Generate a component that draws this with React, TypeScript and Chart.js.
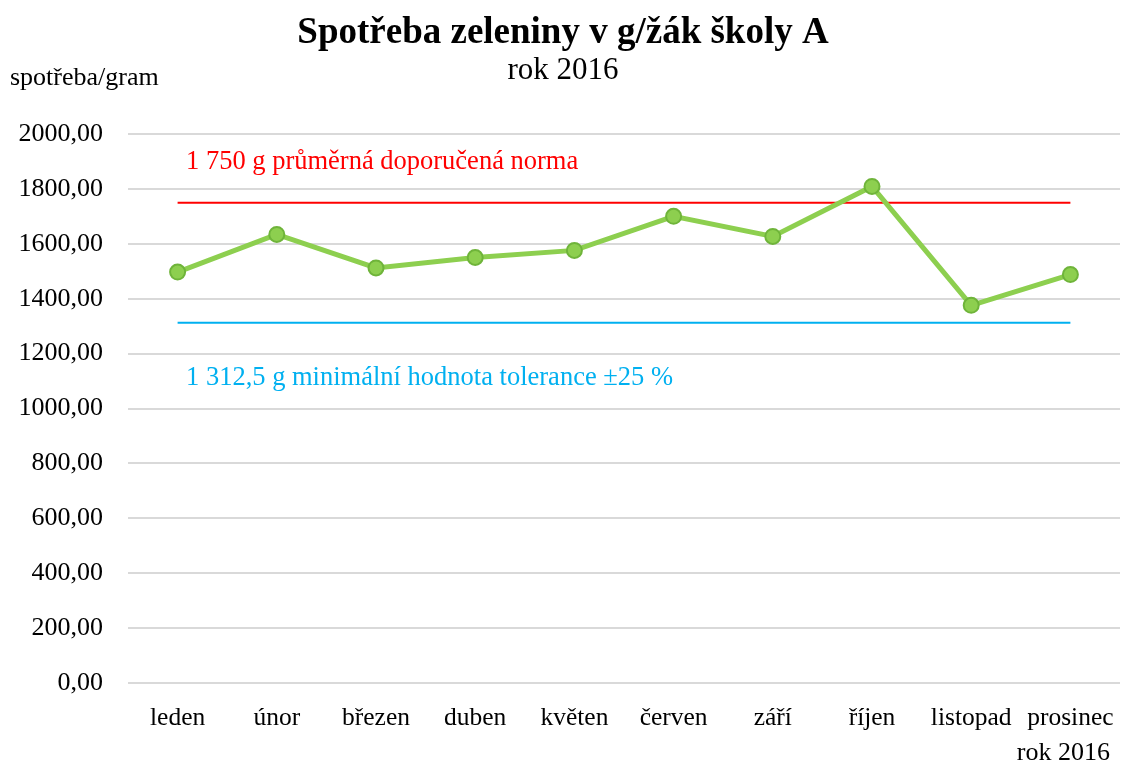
import React, { useEffect, useRef } from "react";
import { Chart, registerables } from "chart.js";

Chart.register(...registerables);

const months = ["leden", "únor", "březen", "duben", "květen", "červen", "září", "říjen", "listopad", "prosinec"];
const consumption = [1497, 1634, 1512, 1550, 1576, 1700, 1627, 1809, 1376, 1488];
const normValue = 1750;
const minTolerance = 1312.5;
const normSeries = months.map(() => normValue);
const toleranceSeries = months.map(() => minTolerance);

const titleText = "Spotřeba zeleniny v g/žák školy A";
const subtitleText = "rok 2016";
const yAxisTitle = "spotřeba/gram";
const xAxisTitle = "rok 2016";
const normLabel = "1 750 g průměrná doporučená norma";
const toleranceLabel = "1 312,5 g minimální hodnota tolerance ±25 %";

const FONT = "'Liberation Serif', 'Times New Roman', serif";

const textPlugin = {
  id: "customTexts",
  afterDraw(chart: any) {
    const ctx = chart.ctx;
    const y = chart.scales.y;
    ctx.save();
    ctx.textBaseline = "middle";
    // title
    ctx.fillStyle = "#000";
    ctx.textAlign = "center";
    ctx.font = `bold 37px ${FONT}`;
    ctx.fillText(titleText, 563, 33);
    ctx.font = `31px ${FONT}`;
    ctx.fillText(subtitleText, 563, 71);
    // y axis title
    ctx.textAlign = "left";
    ctx.font = `26px ${FONT}`;
    ctx.fillText(yAxisTitle, 10, 78);
    // x axis title
    ctx.textAlign = "right";
    ctx.fillText(xAxisTitle, 1110, 753);
    // annotation labels
    ctx.textAlign = "left";
    ctx.font = `26.5px ${FONT}`;
    ctx.fillStyle = "#ff0000";
    ctx.fillText(normLabel, 186, y.getPixelForValue(1897));
    ctx.fillStyle = "#00b0f0";
    ctx.fillText(toleranceLabel, 186, y.getPixelForValue(1111));
    ctx.restore();
  },
};

export default function App() {
  const ref = useRef<HTMLCanvasElement | null>(null);
  useEffect(() => {
    document.body.style.margin = "0";
    const chart = new Chart(ref.current as HTMLCanvasElement, {
      type: "line",
      data: {
        labels: months,
        datasets: [
          {
            label: "spotřeba",
            data: consumption,
            borderColor: "#8dcf4f",
            borderWidth: 5,
            pointRadius: 7.5,
            pointHoverRadius: 7.5,
            pointBackgroundColor: "#8dcf4f",
            pointBorderColor: "#6fb43a",
            pointBorderWidth: 2,
            tension: 0,
          },
          {
            label: "norma",
            data: normSeries,
            borderColor: "#ff0000",
            borderWidth: 2,
            pointRadius: 0,
          },
          {
            label: "tolerance",
            data: toleranceSeries,
            borderColor: "#00b0f0",
            borderWidth: 2,
            pointRadius: 0,
          },
        ],
      },
      options: {
        animation: false,
        responsive: false,
        layout: { autoPadding: false, padding: { top: 134, left: 0, right: 1, bottom: 0 } },
        plugins: {
          legend: { display: false },
          title: { display: false },
          tooltip: { enabled: false },
        },
        scales: {
          x: {
            type: "category",
            offset: true,
            grid: { display: false, drawTicks: false },
            border: { display: false },
            ticks: {
              color: "#000",
              font: { family: FONT, size: 25.5 },
              padding: 20,
              maxRotation: 0,
              autoSkip: false,
            },
            afterFit(scale: any) {
              scale.height = 767 - 683;
              scale.paddingLeft = 0;
              scale.paddingRight = 0;
            },
          },
          y: {
            min: 0,
            max: 2000,
            grid: { color: "#d9d9d9", lineWidth: 2, drawTicks: false },
            border: { display: false },
            ticks: {
              stepSize: 200,
              color: "#000",
              font: { family: FONT, size: 26 },
              padding: 25,
              callback: (v: any) => Number(v).toFixed(2).replace(".", ","),
            },
            afterFit(scale: any) {
              scale.width = 128;
            },
          },
        },
      },
      plugins: [textPlugin],
    });
    return () => chart.destroy();
  }, []);
  return (
    <div style={{ width: 1121, height: 767 }}>
      <canvas ref={ref} width={1121} height={767} style={{ display: "block" }} />
    </div>
  );
}
